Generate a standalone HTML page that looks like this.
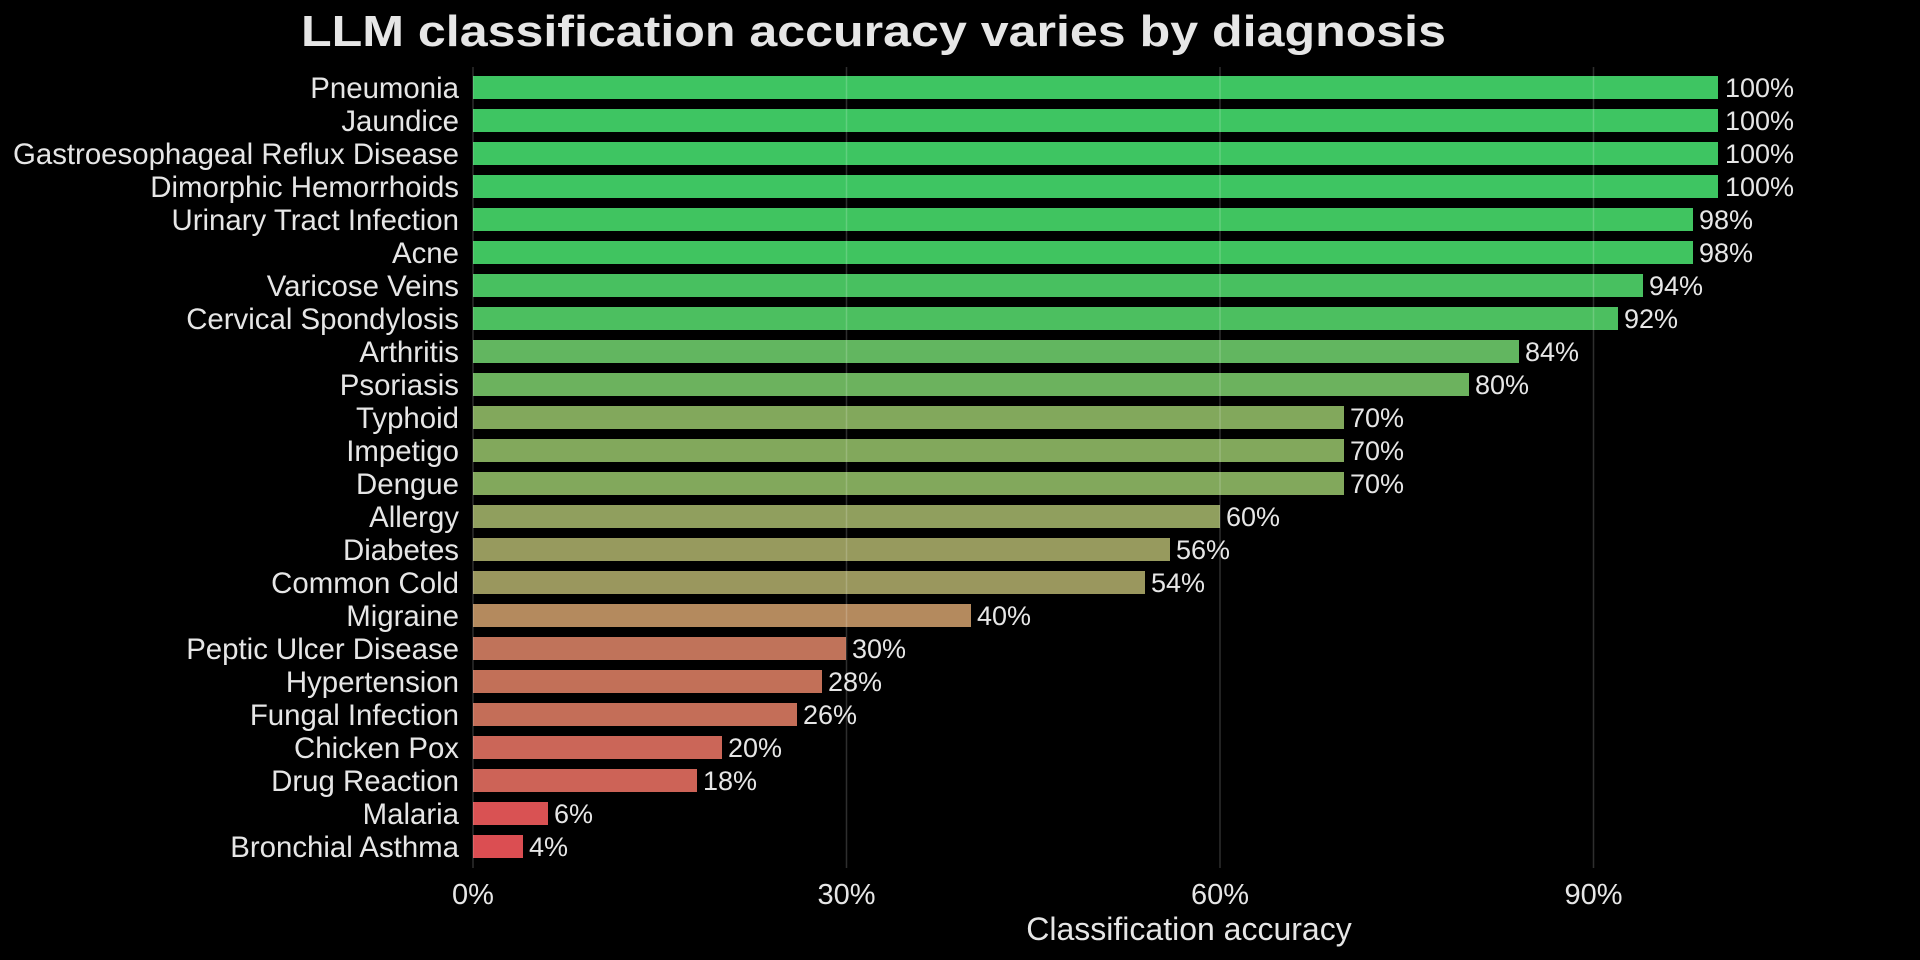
<!DOCTYPE html>
<html><head><meta charset="utf-8"><style>
html,body{margin:0;padding:0;background:#000;}
svg{display:block;}
text{font-family:"Liberation Sans",Arial,sans-serif;fill:#e6e6e6;}
</style></head><body>
<svg width="1920" height="960" viewBox="0 0 1920 960" xmlns="http://www.w3.org/2000/svg">
<rect width="1920" height="960" fill="#000"/>
<text x="301" y="46" font-size="44" font-weight="bold" textLength="1145" lengthAdjust="spacingAndGlyphs">LLM classification accuracy varies by diagnosis</text>
<g>
<rect x="473" y="76" width="1245" height="23" fill="#3ec562"/>
<rect x="473" y="109" width="1245" height="23" fill="#3ec562"/>
<rect x="473" y="142" width="1245" height="23" fill="#3ec562"/>
<rect x="473" y="175" width="1245" height="23" fill="#3ec562"/>
<rect x="473" y="208" width="1220" height="23" fill="#40c460"/>
<rect x="473" y="241" width="1220" height="23" fill="#40c460"/>
<rect x="473" y="274" width="1170" height="23" fill="#48c060"/>
<rect x="473" y="307" width="1145" height="23" fill="#4cbf60"/>
<rect x="473" y="340" width="1046" height="23" fill="#62b660"/>
<rect x="473" y="373" width="996" height="23" fill="#6cb25e"/>
<rect x="473" y="406" width="871" height="23" fill="#82a85c"/>
<rect x="473" y="439" width="871" height="23" fill="#82a85c"/>
<rect x="473" y="472" width="871" height="23" fill="#82a85c"/>
<rect x="473" y="505" width="747" height="23" fill="#909f5e"/>
<rect x="473" y="538" width="697" height="23" fill="#979a5e"/>
<rect x="473" y="571" width="672" height="23" fill="#9a975e"/>
<rect x="473" y="604" width="498" height="23" fill="#b48a5e"/>
<rect x="473" y="637" width="373" height="23" fill="#c0735a"/>
<rect x="473" y="670" width="349" height="23" fill="#c27058"/>
<rect x="473" y="703" width="324" height="23" fill="#c46e58"/>
<rect x="473" y="736" width="249" height="23" fill="#cb6658"/>
<rect x="473" y="769" width="224" height="23" fill="#cd6357"/>
<rect x="473" y="802" width="75" height="23" fill="#d95253"/>
<rect x="473" y="835" width="50" height="23" fill="#db4e52"/>
</g>
<g stroke="#ffffff" stroke-opacity="0.18" stroke-width="1.5">
<line x1="473" y1="67" x2="473" y2="868"/>
<line x1="846.5" y1="67" x2="846.5" y2="868"/>
<line x1="1220" y1="67" x2="1220" y2="868"/>
<line x1="1593.5" y1="67" x2="1593.5" y2="868"/>
</g>
<g font-size="29.4" text-anchor="end">
<text x="459" y="98">Pneumonia</text>
<text x="459" y="131">Jaundice</text>
<text x="459" y="164">Gastroesophageal Reflux Disease</text>
<text x="459" y="197">Dimorphic Hemorrhoids</text>
<text x="459" y="230">Urinary Tract Infection</text>
<text x="459" y="263">Acne</text>
<text x="459" y="296">Varicose Veins</text>
<text x="459" y="329">Cervical Spondylosis</text>
<text x="459" y="362">Arthritis</text>
<text x="459" y="395">Psoriasis</text>
<text x="459" y="428">Typhoid</text>
<text x="459" y="461">Impetigo</text>
<text x="459" y="494">Dengue</text>
<text x="459" y="527">Allergy</text>
<text x="459" y="560">Diabetes</text>
<text x="459" y="593">Common Cold</text>
<text x="459" y="626">Migraine</text>
<text x="459" y="659">Peptic Ulcer Disease</text>
<text x="459" y="692">Hypertension</text>
<text x="459" y="725">Fungal Infection</text>
<text x="459" y="758">Chicken Pox</text>
<text x="459" y="791">Drug Reaction</text>
<text x="459" y="824">Malaria</text>
<text x="459" y="857">Bronchial Asthma</text>
</g>
<g font-size="27">
<text x="1725" y="97">100%</text>
<text x="1725" y="130">100%</text>
<text x="1725" y="163">100%</text>
<text x="1725" y="196">100%</text>
<text x="1699" y="229">98%</text>
<text x="1699" y="262">98%</text>
<text x="1649" y="295">94%</text>
<text x="1624" y="328">92%</text>
<text x="1525" y="361">84%</text>
<text x="1475" y="394">80%</text>
<text x="1350" y="427">70%</text>
<text x="1350" y="460">70%</text>
<text x="1350" y="493">70%</text>
<text x="1226" y="526">60%</text>
<text x="1176" y="559">56%</text>
<text x="1151" y="592">54%</text>
<text x="977" y="625">40%</text>
<text x="852" y="658">30%</text>
<text x="828" y="691">28%</text>
<text x="803" y="724">26%</text>
<text x="728" y="757">20%</text>
<text x="703" y="790">18%</text>
<text x="554" y="823">6%</text>
<text x="529" y="856">4%</text>
</g>
<g font-size="29" text-anchor="middle">
<text x="473" y="904">0%</text>
<text x="846.5" y="904">30%</text>
<text x="1220" y="904">60%</text>
<text x="1593.5" y="904">90%</text>
<text x="1189" y="940" font-size="32">Classification accuracy</text>
</g>
</svg>
</body></html>
